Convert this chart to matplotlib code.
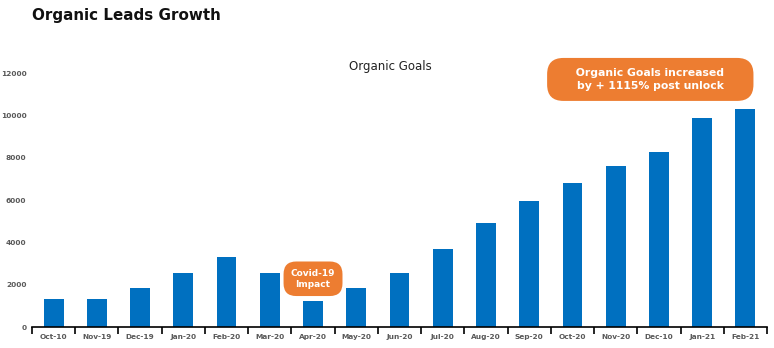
import matplotlib.pyplot as plt
import numpy as np
from matplotlib.ticker import FixedLocator

# valores
meses = ['Oct-10', 'Nov-19', 'Dec-19', 'Jan-20', 'Feb-20', 'Mar-20', 'Apr-20', 'May-20',
         'Jun-20', 'Jul-20', 'Aug-20', 'Sep-20', 'Oct-20', 'Nov-20', 'Dec-10', 'Jan-21', 'Feb-21']
goals = [1320, 1320, 1840, 2550, 3300, 2550, 1230, 1840,
         2550, 3680, 4910, 5950, 6800, 7600, 8270, 9870, 10300]
yticks = [0, 2000, 4000, 6000, 8000, 10000, 12000]

azul = '#0070C0'
naranja = '#ED7D31'
gris = '#595959'

fig = plt.figure(figsize=(7.74, 3.48), dpi=100)
ax = fig.add_axes([0.0413, 0.0603, 0.9497, 0.7297])

x = np.arange(len(meses))
ax.bar(x, goals, width=0.46, color=azul, zorder=2)

ax.set_xlim(-0.5, len(meses) - 0.5)
ax.set_ylim(0, 12000)

ax.set_xticks(x)
ax.set_xticklabels(meses, fontsize=5.3, fontweight='bold', color=gris)
ax.tick_params(axis='x', which='major', length=0, pad=5)
ax.xaxis.set_minor_locator(FixedLocator(np.arange(-0.5, len(meses), 1)))
ax.tick_params(axis='x', which='minor', length=5, width=1.2, color='black', direction='out')

ax.set_yticks(yticks)
ax.set_yticklabels([str(v) for v in yticks], fontsize=5.3, fontweight='bold', color=gris)
ax.tick_params(axis='y', length=0, pad=4)

for s in ['top', 'right', 'left']:
    ax.spines[s].set_visible(False)
ax.spines['bottom'].set_color('black')
ax.spines['bottom'].set_linewidth(1.2)

ax.text(0.487, 1.0, 'Organic Goals', transform=ax.transAxes, ha='center', va='bottom',
        fontsize=8.5, color='#222222')

fig.text(0.041, 0.955, 'Organic Leads Growth', ha='left', va='center',
         fontsize=10.9, fontweight='bold', color='#111111')

ax.text(6.0, 2280, 'Covid-19\nImpact', ha='center', va='center', fontsize=6.5,
        fontweight='bold', color='white', linespacing=1.3, zorder=5,
        bbox=dict(boxstyle='round,pad=0.8,rounding_size=1.4', fc=naranja, ec='none'))

ax.text(13.8, 11700, '     Organic Goals increased     \nby + 1115% post unlock',
        ha='center', va='center', fontsize=7.8, fontweight='bold', color='white',
        linespacing=1.3, zorder=5, clip_on=False,
        bbox=dict(boxstyle='round,pad=0.95,rounding_size=1.5', fc=naranja, ec='none'))

fig.savefig('out.png', dpi=100)
